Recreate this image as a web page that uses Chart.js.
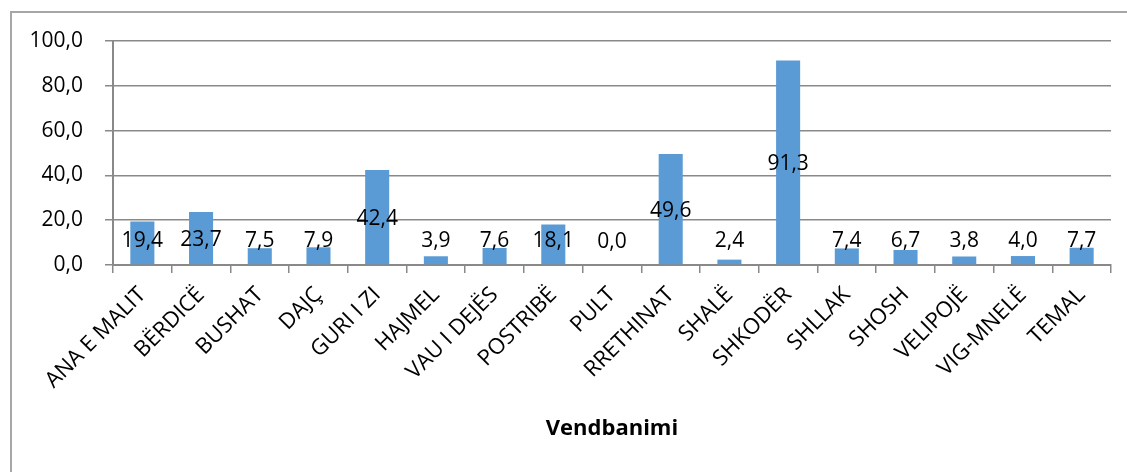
<!DOCTYPE html>
<html>
<head>
<meta charset="utf-8">
<script src="https://cdn.jsdelivr.net/npm/chart.js@4"></script>
<style>
    html, body { margin: 0; padding: 0; background: #fff; overflow: hidden; }
    #frame { position: absolute; left: 10px; top: 11px; width: 1300px; height: 600px;
             border-left: 2px solid #a6a6a6; border-top: 2px solid #a6a6a6; }
    #wrap { position: absolute; left: 0; top: 0; width: 1127px; height: 472px; }
</style>
</head>
<body>
<div id="frame"></div>
<div id="wrap"><canvas id="chart_vendbanimi"></canvas></div>
<script>
// Data
const places = ['ANA E MALIT', 'BËRDICË', 'BUSHAT', 'DAJÇ', 'GURI I ZI', 'HAJMEL', 'VAU I DEJËS',
    'POSTRIBË', 'PULT', 'RRETHINAT', 'SHALË', 'SHKODËR', 'SHLLAK', 'SHOSH', 'VELIPOJË',
    'VIG-MNELË', 'TEMAL'];
const values = [19.4, 23.7, 7.5, 7.9, 42.4, 3.9, 7.6, 18.1, 0.0, 49.6, 2.4, 91.3, 7.4, 6.7, 3.8, 4.0, 7.7];
const yTicks = [0, 20, 40, 60, 80, 100];
const xTitle = 'Vendbanimi';

const gridColor = '#898989';
const fontFamily = '"Open Sans", "DejaVu Sans", sans-serif';

function fmt(v) { // decimal comma, one digit
    return v.toFixed(1).replace('.', ',');
}

// Labels in the middle of each bar, pushed up when the bar is too short
const barLabels = {
    id: 'barLabels',
    afterDatasetsDraw(chart) {
        const ctx = chart.ctx;
        const meta = chart.getDatasetMeta(0);
        ctx.save();
        ctx.font = '21px ' + fontFamily;
        ctx.fillStyle = '#000';
        ctx.textAlign = 'center';
        ctx.textBaseline = 'middle';
        meta.data.forEach((bar, i) => {
            const y = Math.min((bar.y + bar.base) / 2 + 2, bar.base - 23);
            ctx.fillText(fmt(values[i]), bar.x, y);
        });
        ctx.restore();
    }
};

const ctx = document.getElementById('chart_vendbanimi').getContext('2d');
const myChart = new Chart(ctx, {
    type: 'bar',
    data: {
        labels: places,
        datasets: [
            {
                data: values,
                backgroundColor: '#5b9bd5',
                borderWidth: 0,
                barPercentage: 0.41,
                categoryPercentage: 1
            }
        ]
    },
    options: {
        responsive: true,
        maintainAspectRatio: false,
        animation: false,
        layout: {
            padding: { left: 0, top: 41, right: 16, bottom: 30 }
        },
        plugins: {
            legend: { display: false },
            tooltip: { enabled: false }
        },
        scales: {
            y: {
                min: 0,
                max: 100,
                afterBuildTicks: axis => { axis.ticks = yTicks.map(v => ({ value: v })); },
                afterFit: axis => { axis.width = 113; },
                border: { color: gridColor, width: 2 },
                grid: { color: gridColor, lineWidth: 1.5, tickLength: 8 },
                ticks: {
                    padding: 22,
                    color: '#000',
                    font: { family: fontFamily, size: 21 },
                    callback: v => fmt(v)
                }
            },
            x: {
                afterFit: axis => { axis.height = 177; },
                border: { color: gridColor, width: 2 },
                grid: { color: gridColor, lineWidth: 1.5, offset: true, drawOnChartArea: false, tickLength: 8 },
                ticks: {
                    autoSkip: false,
                    minRotation: 45,
                    maxRotation: 45,
                    padding: 9,
                    color: '#000',
                    font: { family: fontFamily, size: 22 }
                },
                title: {
                    display: true,
                    text: xTitle,
                    color: '#000',
                    padding: 0,
                    font: { family: fontFamily, size: 22, weight: 'bold' }
                }
            }
        }
    },
    plugins: [barLabels]
});
</script>
</body>
</html>
